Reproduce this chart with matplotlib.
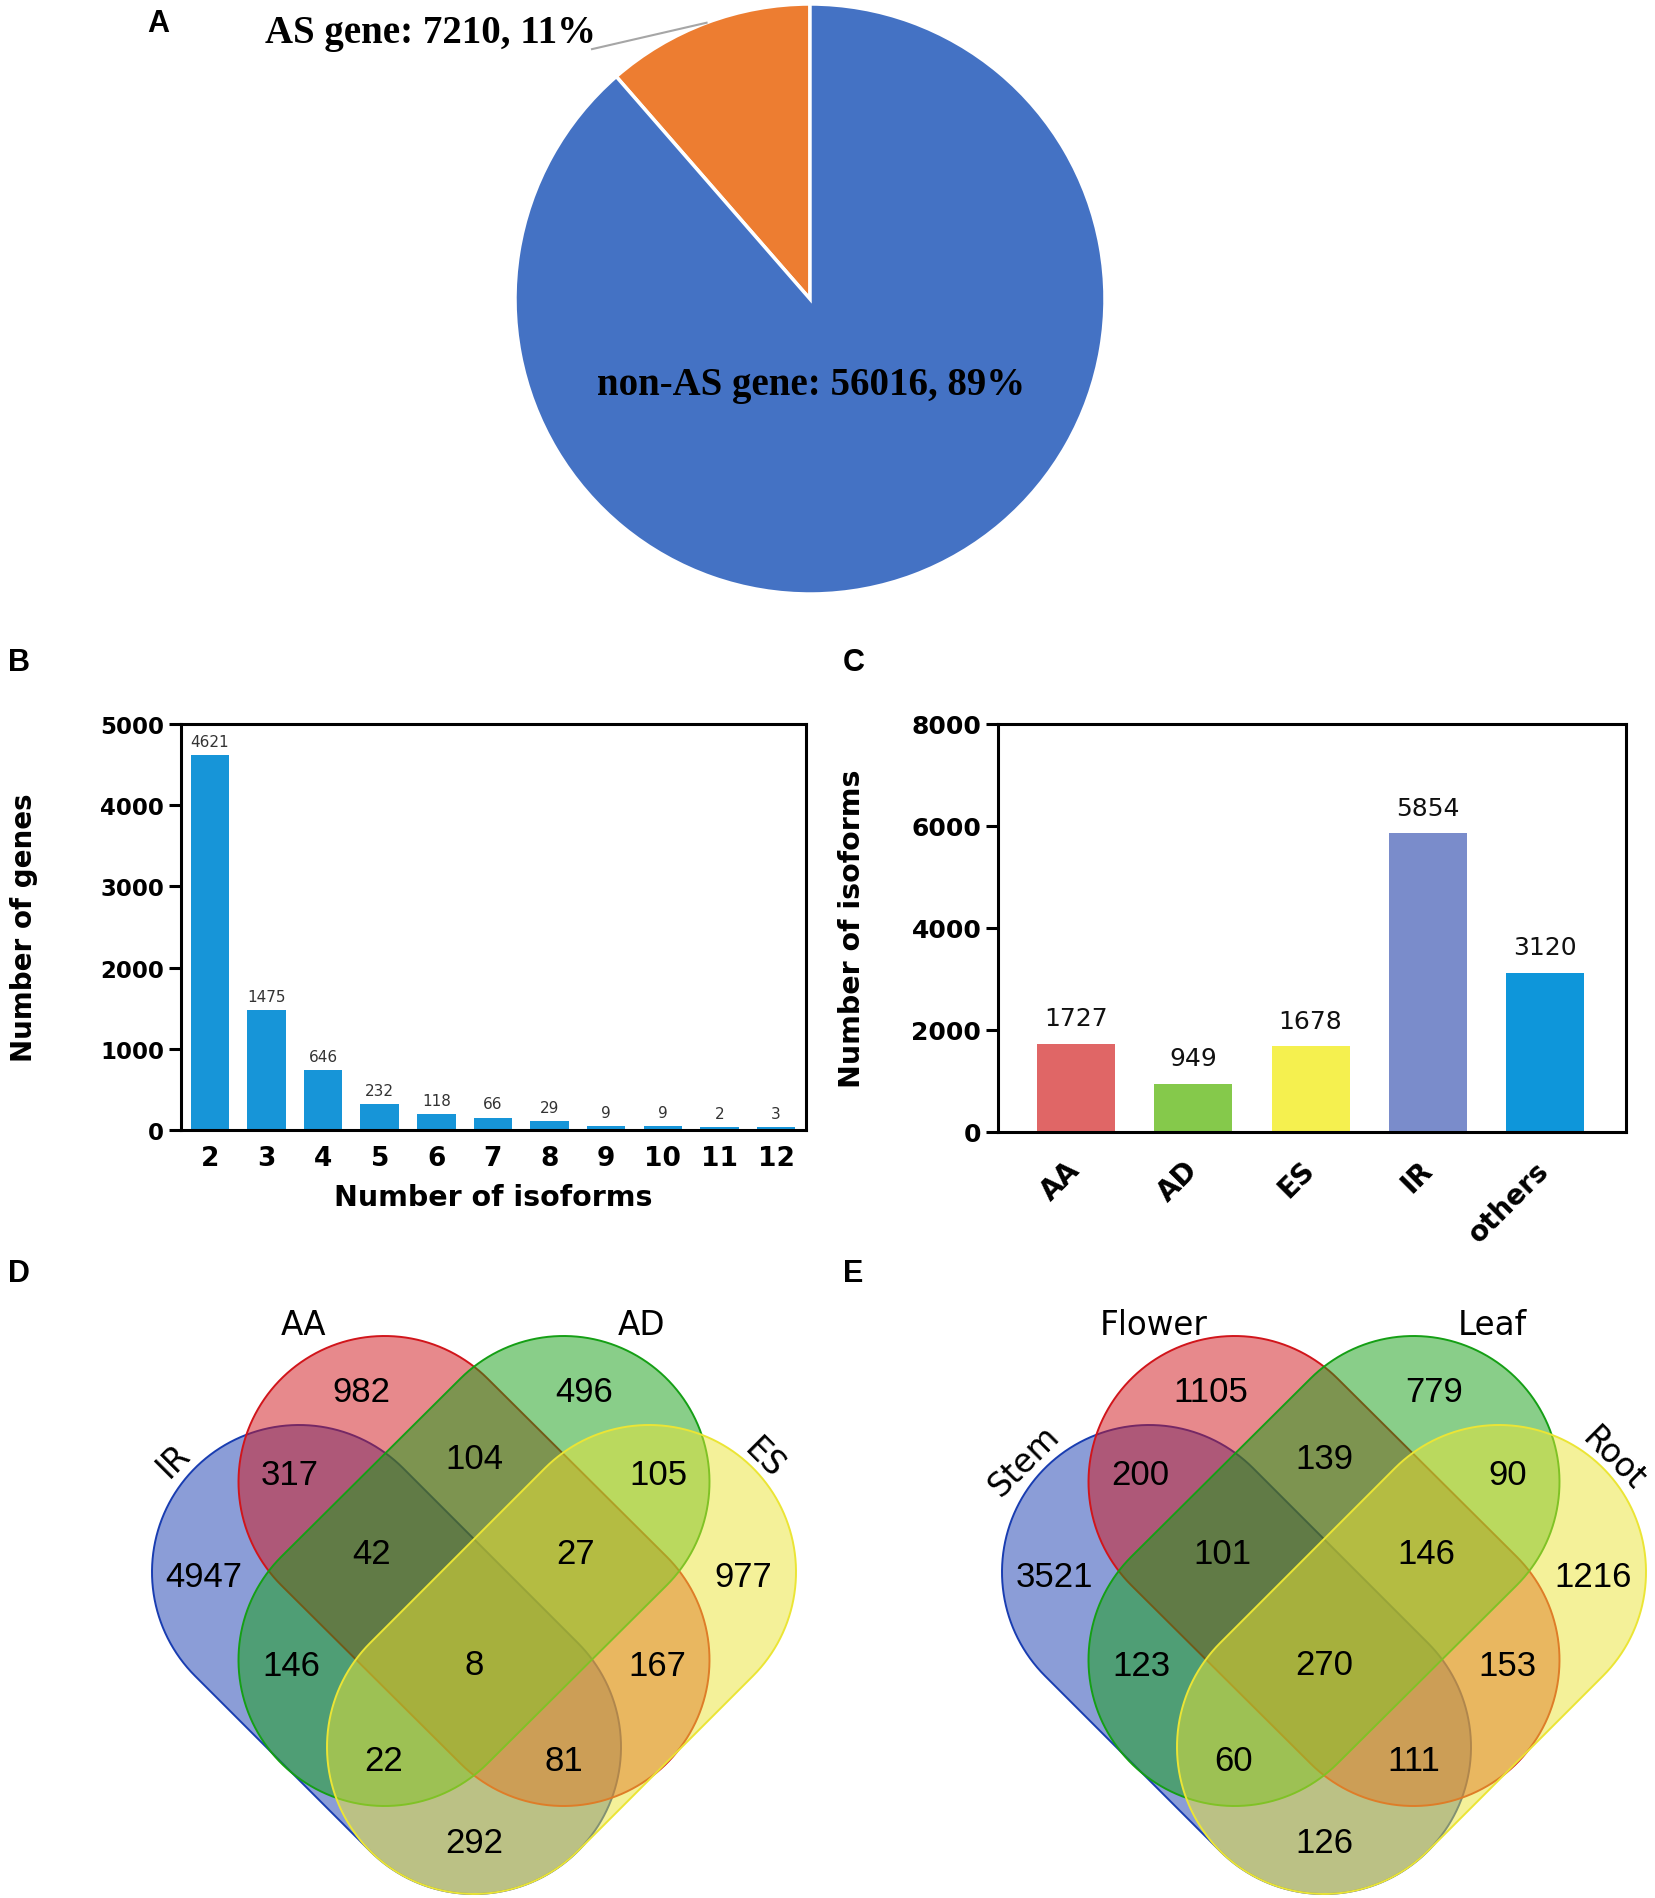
import matplotlib
matplotlib.use("Agg")
import matplotlib.pyplot as plt
import numpy as np
from matplotlib.patches import Polygon

# ---------------- data ----------------
pie_labels = ["AS gene", "non-AS gene"]
pie_counts = [7210, 56016]
pie_colors = ["#ED7D31", "#4472C4"]

iso_categories = ["2", "3", "4", "5", "6", "7", "8", "9", "10", "11", "12"]
gene_counts = [4621, 1475, 646, 232, 118, 66, 29, 9, 9, 2, 3]          # printed labels
gene_bar_heights = [4621, 1475, 735, 318, 199, 152, 109, 52, 52, 33, 33]  # bar heights as drawn

as_types = ["AA", "AD", "ES", "IR", "others"]
as_counts = [1727, 949, 1678, 5854, 3120]
as_colors = ["#E06666", "#85C94B", "#F5F04F", "#7A8CCB", "#0E96DA"]

venn_d_sets = ["IR", "AA", "AD", "ES"]
venn_e_sets = ["Stem", "Flower", "Leaf", "Root"]
# region order: IR, AA, AD, ES, IR&AA, AA&AD, AD&ES, IR&AA&AD, AA&AD&ES,
#               IR&AD, AA&ES, all, IR&AD&ES, IR&AA&ES, IR&ES
venn_d_counts = [4947, 982, 496, 977, 317, 104, 105, 42, 27, 146, 167, 8, 22, 81, 292]
venn_e_counts = [3521, 1105, 779, 1216, 200, 139, 90, 101, 146, 123, 153, 270, 60, 111, 126]
venn_colors = ["#193DB1", "#D1151B", "#159F15", "#EBE535"]

# ---------------- figure ----------------
W, H = 1655, 1899
plt.rcParams['font.family'] = ['DejaVu Sans']
fig = plt.figure(figsize=(W / 100, H / 100), dpi=100)


def px_rect(x0, y0, x1, y1):
    return [x0 / W, 1 - y1 / H, (x1 - x0) / W, (y1 - y0) / H]


def panel_letter(x, y, s):
    fig.text(x / W, 1 - y / H, s, fontsize=22, fontweight='bold',
             ha='center', va='center', family='Liberation Sans')


# ---------------- A: pie ----------------
cx, cy, R = 810, 300, 295
axA = fig.add_axes(px_rect(cx - R, cy - R, cx + R, cy + R))
total = sum(pie_counts)
axA.pie(pie_counts, colors=pie_colors, startangle=90, counterclock=True,
        radius=1, wedgeprops=dict(edgecolor='white', linewidth=2.5))
axA.set_xlim(-1, 1)
axA.set_ylim(-1, 1)
axA.set_aspect('equal')
axA.axis('off')
lab = [f"{n}: {c}, {round(100 * c / total)}%" for n, c in zip(pie_labels, pie_counts)]
serif = dict(family='Liberation Serif', fontweight='bold', fontsize=28)
axA.text(-1.285, 0.902, lab[0], ha='center', va='center', clip_on=False, **serif)
axA.text(0.005, -0.29, lab[1], ha='center', va='center', **serif)
mid = np.deg2rad(90 + 360 * pie_counts[0] / total / 2)
axA.plot([-0.739, np.cos(mid)], [0.847, np.sin(mid)], color='#A6A6A6', lw=1.5, clip_on=False)
panel_letter(158, 24, "A")


def style_axes(ax):
    for s in ax.spines.values():
        s.set_linewidth(2.2)
        s.set_color('black')
    ax.tick_params(axis='y', direction='out', length=8.5, width=2.2)


# ---------------- B ----------------
axB = fig.add_axes(px_rect(181, 725, 806, 1131))
xb = np.arange(len(iso_categories))
axB.bar(xb, gene_bar_heights, width=0.68, color='#1795D8')
for xi, h, v in zip(xb, gene_bar_heights, gene_counts):
    axB.annotate(str(v), (xi, h), xytext=(0, 4.5), textcoords='offset points',
                 ha='center', va='bottom', fontsize=11, color='#333333')
axB.set_xlim(-0.51, 10.53)
axB.set_ylim(0, 5000)
axB.set_yticks(np.arange(0, 5001, 1000))
axB.set_xticks(xb)
axB.set_xticklabels(iso_categories)
style_axes(axB)
axB.tick_params(axis='x', length=0, pad=11)
for t in axB.get_yticklabels():
    t.set_fontsize(16.5); t.set_fontweight('bold')
for t in axB.get_xticklabels():
    t.set_fontsize(19); t.set_fontweight('bold')
axB.set_ylabel("Number of genes", fontsize=20, fontweight='bold', va='center')
axB.yaxis.set_label_coords(-0.251, 0.5)
axB.set_xlabel("Number of isoforms", fontsize=20.5, fontweight='bold', va='center')
axB.xaxis.set_label_coords(0.5, -0.165)
panel_letter(19, 663, "B")

# ---------------- C ----------------
axC = fig.add_axes(px_rect(998, 725, 1626, 1133))
xc = np.arange(len(as_types))
axC.bar(xc, as_counts, width=0.665, color=as_colors)
for xi, v in zip(xc, as_counts):
    axC.annotate(str(v), (xi, v), xytext=(0, 10), textcoords='offset points',
                 ha='center', va='bottom', fontsize=18, color='#111111')
axC.set_xlim(-0.665, 4.69)
axC.set_ylim(0, 8000)
axC.set_yticks(np.arange(0, 8001, 2000))
axC.set_xticks(xc)
axC.set_xticklabels(as_types, rotation=45, ha='right', va='center', rotation_mode='anchor')
style_axes(axC)
axC.tick_params(axis='x', length=0, pad=24)
for t in axC.get_yticklabels():
    t.set_fontsize(18); t.set_fontweight('bold')
for t in axC.get_xticklabels():
    t.set_fontsize(20); t.set_fontweight('bold')
axC.set_ylabel("Number of isoforms", fontsize=20.5, fontweight='bold', va='center')
axC.yaxis.set_label_coords(-0.2325, 0.5)
panel_letter(854, 663, "C")

# ---------------- D / E: Venn ----------------
axV = fig.add_axes(px_rect(0, 1260, W, H))
axV.set_xlim(0, W)
axV.set_ylim(H, 1260)
axV.axis('off')


def stadium(p1, p2, r, n=80):
    p1 = np.asarray(p1, float); p2 = np.asarray(p2, float)
    d = p2 - p1
    a = np.arctan2(d[1], d[0])
    t2 = np.linspace(a - np.pi / 2, a + np.pi / 2, n)
    t1 = np.linspace(a + np.pi / 2, a + 3 * np.pi / 2, n)
    return np.vstack([p2 + r * np.c_[np.cos(t2), np.sin(t2)],
                      p1 + r * np.c_[np.cos(t1), np.sin(t1)]])


# layout (pixel offsets relative to the diagram centre line)
shape_geo = [((-175, 1573), (0, 1748), 147),
             ((-89.5, 1483), (89.5, 1661), 146),
             ((89.5, 1483), (-89.5, 1661), 146),
             ((175, 1573), (0, 1748), 147)]
region_pos = [(-270, 1578), (-113, 1393), (110, 1393), (269, 1578),
              (-184, 1476), (0, 1460), (184, 1476), (-102, 1555), (102, 1555),
              (-183, 1667), (183, 1667), (0, 1666), (-90, 1762), (90, 1762), (0, 1844)]
name_pos = [(-300, 1461, 45), (-170, 1326, 0), (168, 1326, 0), (290, 1459, -45)]


def draw_venn(x0, names, counts):
    for (p1, p2, r), col in zip(shape_geo, venn_colors):
        pts = stadium((x0 + p1[0], p1[1]), (x0 + p2[0], p2[1]), r)
        axV.add_patch(Polygon(pts, closed=True, facecolor=col, alpha=0.5, edgecolor='none'))
        axV.add_patch(Polygon(pts, closed=True, fill=False, edgecolor=col, lw=1.4))
    for (dx, y), c in zip(region_pos, counts):
        axV.text(x0 + dx, y, str(c), ha='center', va='center', fontsize=25,
                 family='Liberation Sans', color='black')
    for (dx, y, rot), nm in zip(name_pos, names):
        axV.text(x0 + dx, y, nm, ha='center', va='center', fontsize=23.5,
                 rotation=rot, color='black')


draw_venn(474, venn_d_sets, venn_d_counts)
draw_venn(1324, venn_e_sets, venn_e_counts)
panel_letter(19, 1274, "D")
panel_letter(853, 1274, "E")

fig.savefig("out.png", dpi=100)
